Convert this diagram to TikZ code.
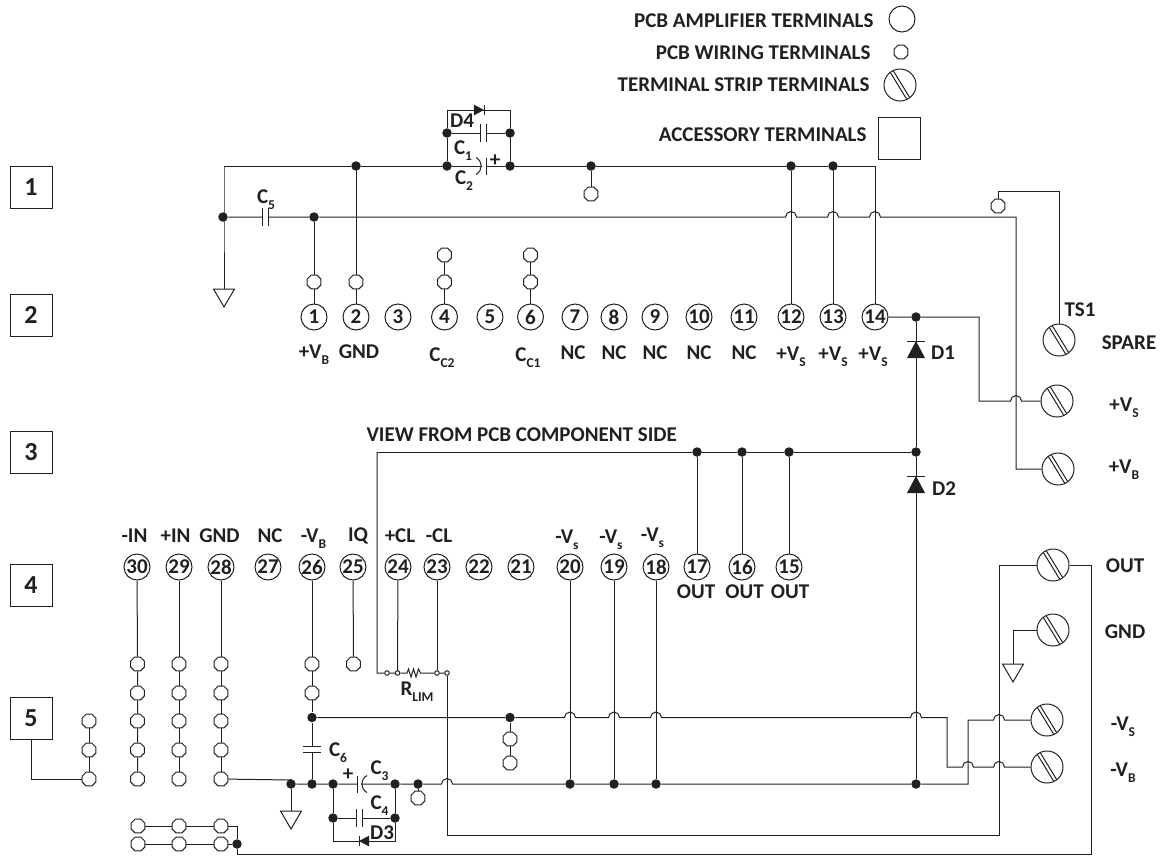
\documentclass[tikz,border=0pt]{standalone}
\usepackage{fontspec}
\setmainfont{Carlito}
\usetikzlibrary{shapes.geometric}
\definecolor{ink}{HTML}{231F20}
\newcommand{\hop}[2]{-- ([xshift=-5.5pt]#1 |- #2) arc[start angle=180,end angle=0,radius=5.5pt]}
\newcommand{\low}[1]{\raisebox{-6pt}{\fontsize{13.5}{14}\selectfont #1}}
\tikzset{
  lbl/.style={font=\bfseries\fontsize{21}{22}\selectfont,inner sep=0pt},
  amp/.style={circle,draw,fill=white,minimum size=26,inner sep=0pt,font=\bfseries\fontsize{21}{22}\selectfont},
  wire/.style={regular polygon,regular polygon sides=8,draw,fill=white,minimum size=15,inner sep=0pt},
  tiny/.style={circle,draw,fill=white,minimum size=4.5,inner sep=0pt},
  jn/.style={circle,fill,minimum size=9.5,inner sep=0pt},
  strip/.style={circle,draw,fill=white,minimum size=32,inner sep=0pt,
    path picture={\draw[shift={(path picture bounding box.center)}] (-13,-18) -- (9,18) (-9,-18) -- (13,18);}},
  acc/.style={rectangle,draw,minimum size=42,inner sep=0pt,font=\bfseries\fontsize{26}{26}\selectfont},
  plates/.style={fill=white,minimum width=5,minimum height=17,inner sep=0pt,
    append after command={(\tikzlastnode.north west) edge (\tikzlastnode.south west)
      (\tikzlastnode.north east) edge (\tikzlastnode.south east)}},
  polar/.style={fill=white,minimum width=3,minimum height=16,inner sep=0pt},
  diode/.pic={\fill (0,0) -- (-17,9) -- (-17,-9) -- cycle; \draw (0,-9) -- (0,9);},
  gnd/.pic={\draw (-10.5,0) -- (10.5,0) -- (0,18) -- cycle;}
}
\begin{document}
\begin{tikzpicture}[x=1pt,y=-1pt,color=ink,line width=1pt]
  \useasboundingbox (0,0) rectangle (1165,855);

  % legend
  \node[amp] (lgamp) at (902,19) {};
  \node[wire] (lgwire) at (901,52) {};
  \node[strip] (lgstrip) at (900,85) {};
  \node[acc] (lgacc) at (899,138) {};
  \node[lbl,anchor=east] (tamp) at (874,21) {PCB AMPLIFIER TERMINALS};
  \node[lbl,anchor=east] (twire) at (871,53) {PCB WIRING TERMINALS};
  \node[lbl,anchor=east] (tstrip) at (870,85) {TERMINAL STRIP TERMINALS};
  \node[lbl,anchor=east] (tacc) at (867,135) {ACCESSORY TERMINALS};

  % accessory boxes
  \node[acc] (box1) at (31,187) {1};
  \node[acc] (box2) at (31,315) {2};
  \node[acc] (box3) at (31,452.5) {3};
  \node[acc] (box4) at (31,585.5) {4};
  \node[acc] (box5) at (31,718.5) {5};

  % upper amplifier terminals
  \node[amp] (p1) at (314,317) {1};
  \node[amp] (p2) at (356,317) {2};
  \node[amp] (p3) at (398,317) {3};
  \node[amp] (p4) at (444.5,317) {4};
  \node[amp] (p5) at (490,317) {5};
  \node[amp] (p6) at (530.5,317) {6};
  \node[amp] (p7) at (575,317) {7};
  \node[amp] (p8) at (614,317) {8};
  \node[amp] (p9) at (655,317) {9};
  \node[amp] (p10) at (699,317) {10};
  \node[amp] (p11) at (744,317) {11};
  \node[amp] (p12) at (791,317) {12};
  \node[amp] (p13) at (833,317) {13};
  \node[amp] (p14) at (875,317) {14};
  \node[lbl] (t1) at (314,355) {+V\low{B}};
  \node[lbl] (t2) at (359,352) {GND};
  \node[lbl] (t4) at (442,358) {C\low{C2}};
  \node[lbl] (t6) at (528,358) {C\low{C1}};
  \node[lbl] (t7) at (573,353) {NC};
  \node[lbl] (t8) at (614,353) {NC};
  \node[lbl] (t9) at (655,353) {NC};
  \node[lbl] (t10) at (699,353) {NC};
  \node[lbl] (t11) at (744,353) {NC};
  \node[lbl] (t12) at (791,357) {+V\low{S}};
  \node[lbl] (t13) at (833,357) {+V\low{S}};
  \node[lbl] (t14) at (873,357) {+V\low{S}};

  % lower amplifier terminals
  \node[amp] (p30) at (137,567) {30};
  \node[amp] (p29) at (179,567) {29};
  \node[amp] (p28) at (221,567) {28};
  \node[amp] (p27) at (268,567) {27};
  \node[amp] (p26) at (312,567) {26};
  \node[amp] (p25) at (353,567) {25};
  \node[amp] (p24) at (398,567) {24};
  \node[amp] (p23) at (437,567) {23};
  \node[amp] (p22) at (479,567) {22};
  \node[amp] (p21) at (521,567) {21};
  \node[amp] (p20) at (570,567) {20};
  \node[amp] (p19) at (614,567) {19};
  \node[amp] (p18) at (656,567) {18};
  \node[amp] (p17) at (697,567) {17};
  \node[amp] (p16) at (742,567) {16};
  \node[amp] (p15) at (789,567) {15};
  \node[lbl] (t30) at (134.5,536) {-IN};
  \node[lbl] (t29) at (175.5,536) {+IN};
  \node[lbl] (t28) at (219.5,536) {GND};
  \node[lbl] (t27) at (270,536) {NC};
  \node[lbl] (t26) at (313.5,539) {-V\low{B}};
  \node[lbl] (t25) at (358,536) {IQ};
  \node[lbl] (t24) at (400,536) {+CL};
  \node[lbl] (t23) at (439,536) {-CL};
  \node[lbl] (t20) at (567,540) {-V\low{s}};
  \node[lbl] (t19) at (611,540) {-V\low{s}};
  \node[lbl] (t18) at (652.5,538) {-V\low{s}};
  \node[lbl] (t17) at (696,592) {OUT};
  \node[lbl] (t16) at (744.5,592) {OUT};
  \node[lbl] (t15) at (790,592) {OUT};
  \node[lbl,anchor=west] (tview) at (366,435) {VIEW FROM PCB COMPONENT SIDE};

  % terminal strip
  \node[strip] (sts) at (1059,340) {};
  \node[strip] (svsp) at (1057,401) {};
  \node[strip] (svbp) at (1058,469) {};
  \node[strip] (sout) at (1053,565) {};
  \node[strip] (sgnd) at (1053,630) {};
  \node[strip] (svsn) at (1047,720) {};
  \node[strip] (svbn) at (1047,767) {};
  \node[lbl] (tts) at (1080,310) {TS1};
  \node[lbl] (tspare) at (1129,343) {SPARE};
  \node[lbl] (tvsp) at (1124,408) {+V\low{S}};
  \node[lbl] (tvbp) at (1124,470) {+V\low{B}};
  \node[lbl] (tout) at (1125,566) {OUT};
  \node[lbl] (tgnd) at (1125,632) {GND};
  \node[lbl] (tvsn) at (1123,727) {-V\low{S}};
  \node[lbl] (tvbn) at (1123,773) {-V\low{B}};

  % wiring terminals
  \node[wire] (w1) at (314,282) {};
  \node[wire] (w2) at (356,282) {};
  \node[wire] (w4a) at (444.5,282) {};
  \node[wire] (w4b) at (444.5,255) {};
  \node[wire] (w6a) at (530.5,282) {};
  \node[wire] (w6b) at (530.5,255) {};
  \node[wire] (wtop) at (591,194) {};
  \node[wire] (wts) at (998,206) {};
  \node[wire] (w5a) at (89,721) {};
  \node[wire] (w5b) at (89,750) {};
  \node[wire] (w5c) at (89,779) {};
  \node[wire] (w30a) at (137.5,664) {};
  \node[wire] (w30b) at (137.5,693) {};
  \node[wire] (w30c) at (137.5,721) {};
  \node[wire] (w30d) at (137.5,750) {};
  \node[wire] (w30e) at (137.5,779) {};
  \node[wire] (w29a) at (179,664) {};
  \node[wire] (w29b) at (179,693) {};
  \node[wire] (w29c) at (179,721) {};
  \node[wire] (w29d) at (179,750) {};
  \node[wire] (w29e) at (179,779) {};
  \node[wire] (w28a) at (221,664) {};
  \node[wire] (w28b) at (221,693) {};
  \node[wire] (w28c) at (221,721) {};
  \node[wire] (w28d) at (221,750) {};
  \node[wire] (w28e) at (221,779) {};
  \node[wire] (w26a) at (312,664) {};
  \node[wire] (w26b) at (312,693) {};
  \node[wire] (w25) at (353.5,664) {};
  \node[wire] (wvba) at (510,739) {};
  \node[wire] (wvbb) at (510,763) {};
  \node[wire] (wgnd) at (418,798) {};
  \node[wire] (wra) at (138,826) {};
  \node[wire] (wrb) at (179,826) {};
  \node[wire] (wrc) at (221,826) {};
  \node[wire] (wsa) at (138,844) {};
  \node[wire] (wsb) at (179,844) {};
  \node[wire] (wsc) at (221,844) {};

  % junctions
  \node[jn] (j224) at (223,217) {};
  \node[jn] (j314) at (314,217) {};
  \node[jn] (j356) at (356,166) {};
  \node[jn] (j447) at (447,166) {};
  \node[jn] (j447b) at (447,133) {};
  \node[jn] (j510) at (510,166) {};
  \node[jn] (j510b) at (510,133) {};
  \node[jn] (j591) at (591,166) {};
  \node[jn] (j791) at (791,166) {};
  \node[jn] (j833) at (833,166) {};
  \node[jn] (j14) at (916,317) {};
  \node[jn] (j916) at (916,452) {};
  \node[jn] (j697) at (697,452) {};
  \node[jn] (j741) at (742,452) {};
  \node[jn] (j788) at (789,452) {};
  \node[jn] (jvb) at (312,717.5) {};
  \node[jn] (jvbw) at (510,717.5) {};
  \node[jn] (jg) at (291,784) {};
  \node[jn] (jc6) at (312,784) {};
  \node[jn] (jc3) at (333,784) {};
  \node[jn] (jc3b) at (395,784) {};
  \node[jn] (jw) at (418,784) {};
  \node[jn] (j20) at (570,784) {};
  \node[jn] (j19) at (614,784) {};
  \node[jn] (j18) at (656,784) {};
  \node[jn] (jd) at (916,784) {};
  \node[jn] (jc4) at (333,818) {};
  \node[jn] (jc4b) at (395,818) {};
  \node[jn] (jrs) at (237,844) {};

  % current limit terminals
  \node[tiny] (ta) at (387,673) {};
  \node[tiny] (tb) at (397.5,673) {};
  \node[tiny] (tc) at (437,673) {};
  \node[tiny] (td) at (447,673) {};

  % capacitors
  \node[plates] (c1) at (483,133) {};
  \node[plates] (c5) at (265,217) {};
  \node[plates] (c4) at (359.5,818) {};
  \node[plates,rotate=90] (c6) at (312,749) {};
  \node[polar] (c2) at (484,166) {};
  \node[polar] (c3) at (359,784) {};
  \node[lbl] (tc1) at (463,151) {C\low{1}};
  \node[lbl] (tc2) at (464,181) {C\low{2}};
  \node[lbl] (tc3) at (379.5,771) {C\low{3}};
  \node[lbl] (tc4) at (379.5,806) {C\low{4}};
  \node[lbl] (tc5) at (266,200) {C\low{5}};
  \node[lbl] (tc6) at (338,753) {C\low{6}};
  \node[lbl] (tpa) at (495,161) {+};
  \node[lbl] (tpb) at (348,775) {+};
  \node[lbl] (td4) at (462,121) {D4};
  \node[lbl] (td3) at (382,833) {D3};
  \node[lbl] (td1) at (943,353) {D1};
  \node[lbl] (td2) at (944,489) {D2};
  \node[lbl] (trl) at (417,692) {R\low{LIM}};

  % corners
  \coordinate (ctl) at (224,166);
  \coordinate (g1) at (224,289);
  \coordinate (g2) at (291,811);
  \coordinate (g3) at (1013,664);
  \coordinate (ctop) at (447,110);
  \coordinate (ctopr) at (510,110);
  \coordinate (cts) at (1059,191);
  \coordinate (cvsp) at (979,401);
  \coordinate (cvbp) at (1016,469);
  \coordinate (clim) at (377,452);
  \coordinate (cbox) at (31,779);
  \coordinate (cbe) at (968,784);
  \coordinate (cbt) at (968,720);
  \coordinate (cvbn) at (947,767);
  \coordinate (clout) at (999,835);
  \coordinate (crout) at (1091,854);
  \coordinate (cd3a) at (333,841);
  \coordinate (cd3b) at (395,841);
  \coordinate (cw) at (291,780);
  \coordinate (cwr) at (237,826);
  \coordinate (rla) at (407,673);
  \coordinate (rlb) at (422,673);

  % top bus
  \draw (ctl) -- (j356) -- (j447) -- (c2) -- (j510) -- (j591) -- (j791) -- (j833) -| (p14);
  \draw (ctl) -- (224,217) -- (g1);
  \draw (j224) -- (c5) -- (j314) \hop{p12}{j314} \hop{p13}{j314} \hop{p14}{j314} -| (cvbp) -- (svbp);
  \draw (j314) -- (w1) -- (p1);
  \draw (j356) -- (w2) -- (p2);
  \draw (j447) -- (j447b) -- (ctop) -- (ctopr) -- (j510b) -- (j510);
  \draw (j447b) -- (c1) -- (j510b);
  \draw (j591) -- (wtop);
  \draw (j791) -- (p12);
  \draw (j833) -- (p13);
  \draw (p4) -- (w4a) -- (w4b);
  \draw (p6) -- (w6a) -- (w6b);
  \draw (wts) |- (cts) -- (sts);
  \draw (c2.north east) -- (c2.south east);
  \draw ([xshift=-6pt]c2.north west) .. controls ([shift={(1pt,-4pt)}]c2.north west) and ([shift={(1pt,4pt)}]c2.south west) .. ([xshift=-6pt]c2.south west);
  \pic[scale=0.6] at (484,110) {diode};

  % rail to the terminal strip
  \draw (p14) -- (j14) -| (cvsp) \hop{cvbp}{cvsp} -- (svsp);
  \draw (j14) -- (j916) -- (jd);
  \draw (clim) -- (j697) -- (j741) -- (j788) -- (j916);
  \draw (j697) -- (p17);
  \draw (j741) -- (p16);
  \draw (j788) -- (p15);
  \pic[rotate=90] at (916,341) {diode};
  \pic[rotate=90] at (916,476) {diode};

  % current limit
  \draw (clim) |- (ta) -- (tb) -- (rla) -- ++(1.5,-4) -- ++(2.5,8) -- ++(2.5,-8) -- ++(2.5,8) -- ++(2.5,-8) -- ++(2,4) -- (rlb) -- (tc) -- (td);
  \draw (p24) -- (tb);
  \draw (p23) -- (tc);
  \draw (td) |- (clout) |- (sout);
  \draw (jrs) |- (crout) |- (sout);

  % lower buses
  \draw (p30) -- (w30a) -- (w30b) -- (w30c) -- (w30d) -- (w30e);
  \draw (p29) -- (w29a) -- (w29b) -- (w29c) -- (w29d) -- (w29e);
  \draw (p28) -- (w28a) -- (w28b) -- (w28c) -- (w28d) -- (w28e);
  \draw (p26) -- (w26a) -- (w26b) -- (jvb) -- (c6) -- (jc6);
  \draw (p25) -- (w25);
  \draw (box5) -- (cbox) -- (w5c) -- (w5b) -- (w5a);
  \draw (w28e) -- (cw) -- (jg);
  \draw (jg) -- (jc6) -- (jc3) -- (c3) -- (jc3b) -- (jw) \hop{td}{jw} -- (j20) -- (j19) -- (j18) -- (jd) -- (cbe) -- (cbt) \hop{clout}{cbt} -- (svsn);
  \draw (jvb) -- (jvbw) \hop{p20}{jvb} \hop{p19}{jvb} \hop{p18}{jvb} \hop{jd}{jvb} -| (cvbn) \hop{cbe}{cvbn} \hop{clout}{cvbn} -- (svbn);
  \draw (jvbw) -- (wvba) -- (wvbb);
  \draw (jw) -- (wgnd);
  \draw (jg) -- (g2);
  \draw (p20) -- (j20);
  \draw (p19) -- (j19);
  \draw (p18) -- (j18);
  \draw (jc3) -- (jc4) -- (cd3a) -- (cd3b) -- (jc4b) -- (jc3b);
  \draw (jc4) -- (c4) -- (jc4b);
  \draw (c3.north west) -- (c3.south west);
  \draw ([xshift=6pt]c3.north east) .. controls ([shift={(-1pt,-4pt)}]c3.north east) and ([shift={(-1pt,4pt)}]c3.south east) .. ([xshift=6pt]c3.south east);
  \pic[rotate=180,scale=0.6] at (359,841) {diode};
  \draw (wra) -- (wrb) -- (wrc) -- (cwr) -- (jrs);
  \draw (wsa) -- (wsb) -- (wsc) -- (jrs);

  % grounds
  \pic at (g1) {gnd};
  \pic at (g2) {gnd};
  \draw (sgnd) -| (g3);
  \pic at (g3) {gnd};
\end{tikzpicture}
\end{document}
